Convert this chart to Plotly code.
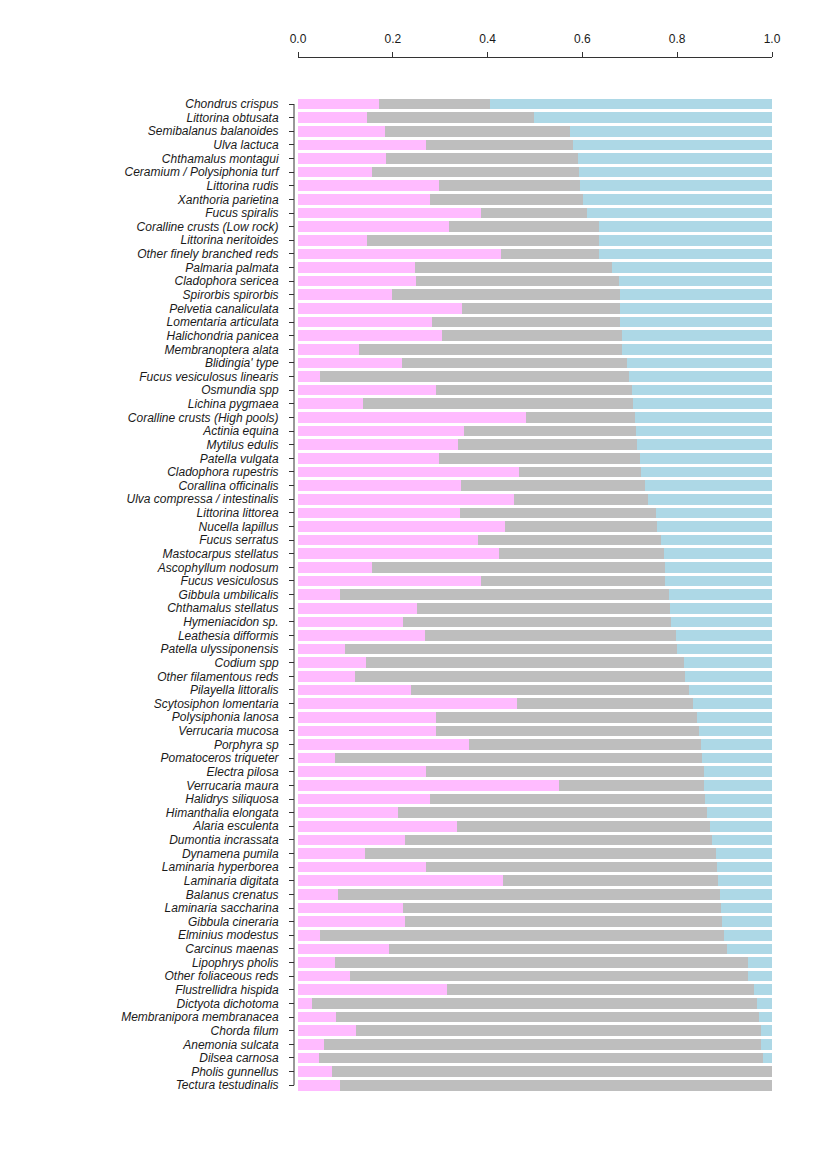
import plotly.graph_objects as go

species = [
    "Chondrus crispus", "Littorina obtusata", "Semibalanus balanoides", "Ulva lactuca",
    "Chthamalus montagui", "Ceramium / Polysiphonia turf", "Littorina rudis", "Xanthoria parietina",
    "Fucus spiralis", "Coralline crusts (Low rock)", "Littorina neritoides", "Other finely branched reds",
    "Palmaria palmata", "Cladophora sericea", "Spirorbis spirorbis", "Pelvetia canaliculata",
    "Lomentaria articulata", "Halichondria panicea", "Membranoptera alata", "Blidingia' type",
    "Fucus vesiculosus linearis", "Osmundia spp", "Lichina pygmaea", "Coralline crusts (High pools)",
    "Actinia equina", "Mytilus edulis", "Patella vulgata", "Cladophora rupestris",
    "Corallina officinalis", "Ulva compressa / intestinalis", "Littorina littorea", "Nucella lapillus",
    "Fucus serratus", "Mastocarpus stellatus", "Ascophyllum nodosum", "Fucus vesiculosus",
    "Gibbula umbilicalis", "Chthamalus stellatus", "Hymeniacidon sp.", "Leathesia difformis",
    "Patella ulyssiponensis", "Codium spp", "Other filamentous reds", "Pilayella littoralis",
    "Scytosiphon lomentaria", "Polysiphonia lanosa", "Verrucaria mucosa", "Porphyra sp",
    "Pomatoceros triqueter", "Electra pilosa", "Verrucaria maura", "Halidrys siliquosa",
    "Himanthalia elongata", "Alaria esculenta", "Dumontia incrassata", "Dynamena pumila",
    "Laminaria hyperborea", "Laminaria digitata", "Balanus crenatus", "Laminaria saccharina",
    "Gibbula cineraria", "Elminius modestus", "Carcinus maenas", "Lipophrys pholis",
    "Other foliaceous reds", "Flustrellidra hispida", "Dictyota dichotoma", "Membranipora membranacea",
    "Chorda filum", "Anemonia sulcata", "Dilsea carnosa", "Pholis gunnellus",
    "Tectura testudinalis",
]

pink_vals = [
    0.170, 0.146, 0.184, 0.269, 0.186, 0.156, 0.297, 0.279, 0.386, 0.318, 0.146, 0.428,
    0.246, 0.249, 0.199, 0.345, 0.282, 0.304, 0.129, 0.219, 0.046, 0.291, 0.137, 0.482,
    0.351, 0.338, 0.297, 0.467, 0.344, 0.456, 0.342, 0.437, 0.380, 0.424, 0.156, 0.386,
    0.088, 0.251, 0.221, 0.267, 0.100, 0.143, 0.120, 0.239, 0.463, 0.292, 0.292, 0.361,
    0.077, 0.270, 0.551, 0.278, 0.210, 0.335, 0.225, 0.141, 0.269, 0.432, 0.085, 0.222,
    0.226, 0.046, 0.192, 0.079, 0.110, 0.315, 0.030, 0.081, 0.122, 0.054, 0.044, 0.072,
    0.088,
]

grey_vals = [
    0.235, 0.352, 0.390, 0.311, 0.404, 0.436, 0.297, 0.323, 0.223, 0.318, 0.490, 0.208,
    0.416, 0.428, 0.481, 0.335, 0.398, 0.379, 0.554, 0.476, 0.652, 0.413, 0.570, 0.228,
    0.363, 0.378, 0.424, 0.257, 0.388, 0.283, 0.413, 0.321, 0.386, 0.348, 0.618, 0.388,
    0.694, 0.534, 0.566, 0.531, 0.700, 0.671, 0.697, 0.585, 0.371, 0.550, 0.555, 0.489,
    0.776, 0.587, 0.306, 0.581, 0.653, 0.535, 0.649, 0.741, 0.615, 0.454, 0.805, 0.671,
    0.669, 0.853, 0.712, 0.870, 0.839, 0.647, 0.939, 0.892, 0.854, 0.923, 0.938, 0.928,
    0.912,
]

blue_vals = [
    0.595, 0.502, 0.426, 0.420, 0.410, 0.408, 0.406, 0.398, 0.391, 0.364, 0.364, 0.364,
    0.338, 0.323, 0.320, 0.320, 0.320, 0.317, 0.317, 0.305, 0.302, 0.296, 0.293, 0.290,
    0.286, 0.284, 0.279, 0.276, 0.268, 0.261, 0.245, 0.242, 0.234, 0.228, 0.226, 0.226,
    0.218, 0.215, 0.213, 0.202, 0.200, 0.186, 0.183, 0.176, 0.166, 0.158, 0.153, 0.150,
    0.147, 0.143, 0.143, 0.141, 0.137, 0.130, 0.126, 0.118, 0.116, 0.114, 0.110, 0.107,
    0.105, 0.101, 0.096, 0.051, 0.051, 0.038, 0.031, 0.027, 0.024, 0.023, 0.018, 0.000,
    0.000,
]

x_ticks = [0.0, 0.2, 0.4, 0.6, 0.8, 1.0]

series = [
    ("Series A", pink_vals, "#FFBBFF"),
    ("Series B", grey_vals, "#BEBEBE"),
    ("Series C", blue_vals, "#ADD8E6"),
]

fig = go.Figure()
for name, vals, col in series:
    fig.add_trace(go.Bar(
        y=species, x=vals, name=name, orientation="h",
        marker=dict(color=col, line=dict(width=0)),
        showlegend=False,
    ))

W, H = 830, 1160
ml, mr, mt, mb = 294, 58, 57, 68
plot_w = W - ml - mr
plot_h = H - mt - mb
bar_top = 97.2
ydom_top = (H - mb - bar_top) / plot_h

fig.update_layout(
    width=W, height=H,
    margin=dict(l=ml, r=mr, t=mt, b=mb, pad=0),
    barmode="stack", bargap=0.22,
    plot_bgcolor="white", paper_bgcolor="white",
    font=dict(family="Liberation Sans, Arial, sans-serif", color="#1a1a1a", size=12),
    xaxis=dict(
        domain=[4 / plot_w, 1], range=[0, 1], side="top", anchor="free", position=1,
        showline=True, linecolor="#333333", linewidth=1,
        ticks="outside", ticklen=5, tickcolor="#333333", tickwidth=1,
        tickmode="array", tickvals=x_ticks, ticktext=[f"{v:.1f}" for v in x_ticks],
        tickfont=dict(size=12, color="#1a1a1a"), ticklabelstandoff=4,
        showgrid=False, zeroline=False,
    ),
    yaxis=dict(
        domain=[0, ydom_top], anchor="free", position=0,
        categoryorder="array", categoryarray=species,
        tickmode="array", tickvals=species, ticktext=species,
        range=[len(species) - 0.5, -0.5],
        showline=False, ticks="outside", ticklen=5, tickcolor="#333333", tickwidth=1,
        tickfont=dict(size=12, style="italic", color="#1a1a1a"), ticklabelstandoff=8,
        showgrid=False, zeroline=False,
    ),
)

fig.add_shape(type="line", xref="paper", yref="y", x0=0, x1=0,
              y0=species[0], y1=species[-1], line=dict(color="#333333", width=1))

fig.write_html("out.html")
